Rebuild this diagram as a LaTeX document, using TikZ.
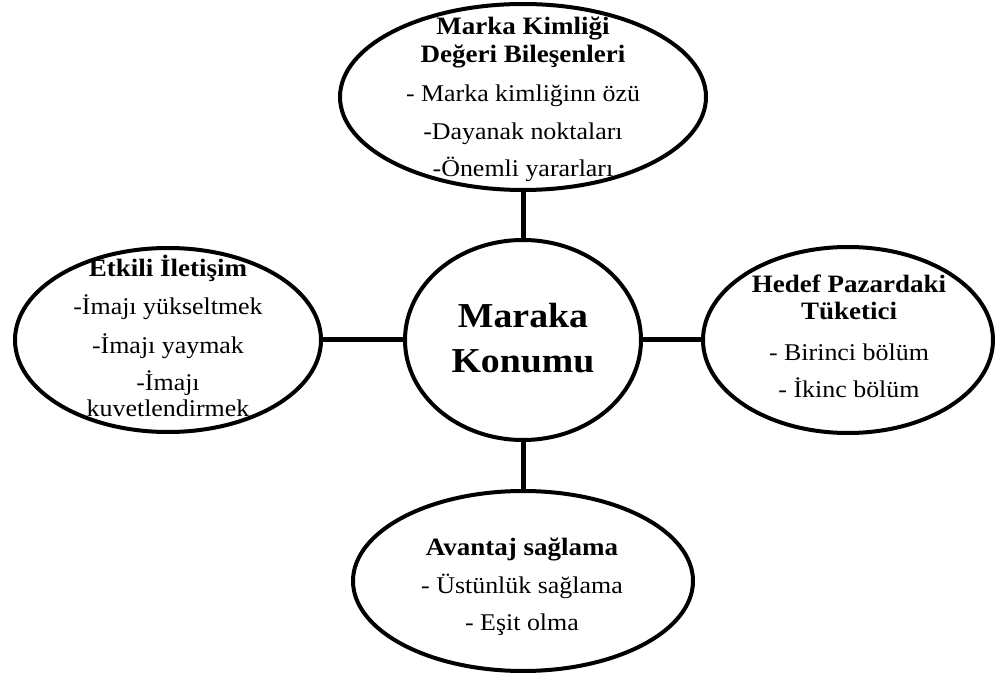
\documentclass[tikz,border=0pt]{standalone}
\usepackage{fontspec}
\setmainfont[FakeStretch=1.08]{Liberation Serif}
\usetikzlibrary{shapes.geometric}
\begin{document}
\begin{tikzpicture}[x=1pt,y=-1pt,
  bubble/.style={ellipse,draw,line width=4pt,inner sep=0pt,outer sep=0pt},
  link/.style={line width=5pt},
  head/.style={anchor=base,inner sep=0pt,font=\fontsize{25}{29}\selectfont\bfseries},
  item/.style={anchor=base,inner sep=0pt,font=\fontsize{24}{28}\selectfont},
  core/.style={anchor=base,inner sep=0pt,font=\fontsize{35}{40}\selectfont\bfseries}]
\useasboundingbox (0,0) rectangle (997,679);
\fill[white] (0,0) rectangle (997,679);

% ellipses
\node[bubble,minimum width=366pt,minimum height=186pt] (top) at (523,97) {};
\node[bubble,minimum width=306pt,minimum height=184pt] (left) at (168,340) {};
\node[bubble,minimum width=236pt,minimum height=200pt] (mid) at (523,340) {};
\node[bubble,minimum width=290pt,minimum height=186pt] (right) at (848,340) {};
\node[bubble,minimum width=340pt,minimum height=180pt] (bot) at (523,581) {};

% connectors
\draw[link] (top) -- (mid);
\draw[link] (left) -- (mid);
\draw[link] (mid) -- (right);
\draw[link] (mid) -- (bot);

% centre
\node[core] (c1) at (523,327) {Maraka};
\node[core] (c2) at (523,373) {Konumu};

% top ellipse text
\node[head] (t1) at (523,35) {Marka Kimliği};
\node[head] (t2) at (523,63) {Değeri Bileşenleri};
\node[item] (t3) at (523,102) {- Marka kimliğinn özü};
\node[item] (t4) at (523,140) {-Dayanak noktaları};
\node[item] (t5) at (523,177) {-Önemli yararları};

% left ellipse text
\node[head] (l1) at (168,277) {Etkili İletişim};
\node[item] (l2) at (168,315) {-İmajı yükseltmek};
\node[item] (l3) at (168,353) {-İmajı yaymak};
\node[item] (l4) at (168,390) {-İmajı};
\node[item] (l5) at (168,416) {kuvetlendirmek};

% right ellipse text
\node[head] (r1) at (849,293) {Hedef Pazardaki};
\node[head] (r2) at (849,320) {Tüketici};
\node[item] (r3) at (849,360) {- Birinci bölüm};
\node[item] (r4) at (849,397) {- İkinc bölüm};

% bottom ellipse text
\node[head] (b1) at (522,555) {Avantaj sağlama};
\node[item] (b2) at (522,593) {- Üstünlük sağlama};
\node[item] (b3) at (522,630) {- Eşit olma};
\end{tikzpicture}
\end{document}
